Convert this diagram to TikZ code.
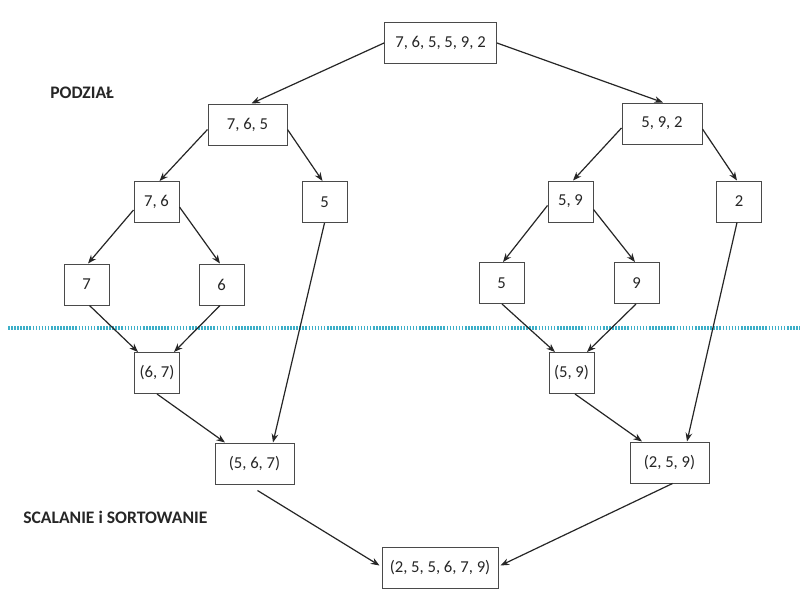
\documentclass[tikz,border=0pt]{standalone}
\usepackage{fontspec}
\setmainfont{Carlito}
\usetikzlibrary{arrows.meta,calc}
\definecolor{ink}{HTML}{262626}
\definecolor{boxline}{HTML}{4A4A4A}
\definecolor{dotcol}{RGB}{60,175,200}
\tikzset{
  cell/.style={draw=boxline, line width=0.75pt, fill=white, text=ink,
    minimum height=30.75pt, inner sep=0pt, font=\fontsize{12.5}{14}\selectfont},
  sm/.style={cell, minimum width=33.75pt},
  md/.style={cell, minimum width=59.25pt},
  lg/.style={cell, minimum width=84pt},
  xl/.style={cell, minimum width=87pt},
  arr/.style={draw=ink, line width=0.9pt, -{Stealth[length=6.5pt,width=5pt]}},
  phase/.style={text=ink, anchor=west, inner sep=0pt,
    font=\fontsize{13.2}{15}\selectfont\bfseries},
  sep/.style={draw=dotcol, line width=2.6pt, dash pattern=on 1.2pt off 1.1pt}
}
\begin{document}
\begin{tikzpicture}[x=0.75pt,y=-0.75pt]
\useasboundingbox (0,0) rectangle (800,600);
\fill[white] (0,0) rectangle (800,600);

% separator
\coordinate (sepL) at (8,328);
\coordinate (sepR) at (800,328);
\draw[sep] (sepL) -- (sepR);

% labels
\node[phase] (lpod) at (50,92.5) {PODZIAŁ};
\node[phase] (lsca) at (23,517) {SCALANIE i SORTOWANIE};

% division
\node[lg] (top)  at (440.5,43)   {7, 6, 5, 5, 9, 2};
\node[md] (a765) at (247.5,124.5) {7, 6, 5};
\node[md,minimum width=60pt] (a592) at (662,123.5) {5, 9, 2};
\node[sm] (a76)  at (156.5,202)  {7, 6};
\node[sm] (a5L)  at (324.5,202)  {5};
\node[sm] (a59)  at (570.5,201.5) {5, 9};
\node[sm] (a2)   at (739,201.5)  {2};
\node[sm] (a7)   at (86.5,284.5) {7};
\node[sm] (a6)   at (221.5,284.5) {6};
\node[sm] (a5R)  at (501.5,283)  {5};
\node[sm] (a9)   at (636.5,283)  {9};

% merging
\node[sm] (m67)  at (157,373)    {(6, 7)};
\node[sm] (m59)  at (571.5,373)  {(5, 9)};
\node[md] (m567) at (254.5,463.5) {(5, 6, 7)};
\node[md] (m259) at (669.5,462.5) {(2, 5, 9)};
\node[xl] (fin)  at (440,567.5)  {(2, 5, 5, 6, 7, 9)};

% division edges
\draw[arr] (top.west) -- ($(a765.north)+(4,0)$);
\draw[arr] (top.east) -- ($(a592.north)+(1,0)$);
\draw[arr] ($(a765.west)+(0,5)$) -- ($(a76.north)+(3,0)$);
\draw[arr] ($(a765.east)+(0,5)$) -- ($(a5L.north)+(-2,0)$);
\draw[arr] ($(a76.west)+(0,8)$) -- ($(a7.north)+(1.5,0)$);
\draw[arr] ($(a76.east)+(0,5)$) -- ($(a6.north)+(-1.5,0)$);
\draw[arr] ($(a592.west)+(0,4.5)$) -- ($(a59.north)+(2.5,0)$);
\draw[arr] ($(a592.east)+(0,5.5)$) -- ($(a2.north)+(-2,0)$);
\draw[arr] ($(a59.west)+(0,4)$) -- ($(a5R.north)+(1.5,0)$);
\draw[arr] ($(a59.east)+(0,8)$) -- ($(a9.north)+(-1.5,0)$);

% merge edges
\draw[arr] ($(a7.south)+(3,0)$) -- ($(m67.north)+(-19,0)$);
\draw[arr] ($(a6.south)+(-1.5,0)$) -- ($(m67.north)+(17,0)$);
\draw[arr] ($(a5R.south)+(0.5,0)$) -- ($(m59.north)+(-16.5,0)$);
\draw[arr] ($(a9.south)+(-0.5,0)$) -- ($(m59.north)+(15.5,0)$);
\draw[arr] ($(a5L.south)+(0,0)$) -- ($(m567.north)+(18.5,0)$);
\draw[arr] ($(a2.south)+(-2,0)$) -- ($(m259.north)+(17.5,0)$);
\draw[arr] ($(m67.south)+(0,0)$) -- ($(m567.north)+(-29.5,0)$);
\draw[arr] ($(m59.south)+(3.5,0)$) -- ($(m259.north)+(-27.5,0)$);
\draw[arr] ($(m567.south)+(3,6)$) -- ($(fin.west)+(-2,-2)$);
\draw[arr] ($(m259.south)+(3,0)$) -- ($(fin.east)+(2,-2)$);
\end{tikzpicture}
\end{document}
